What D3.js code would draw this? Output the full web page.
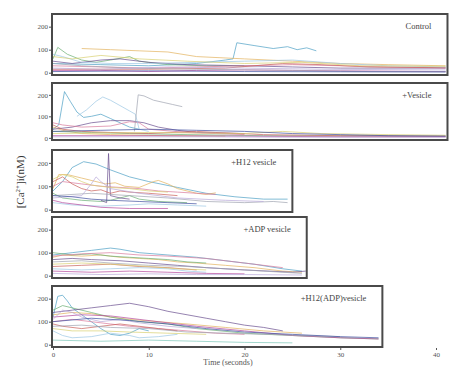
<!DOCTYPE html>
<html>
<head>
<meta charset="utf-8">
<script src="https://cdn.jsdelivr.net/npm/d3@7"></script>
<style>
  body { margin: 0; background: #fff; }
  svg { display: block; font-family: "Liberation Serif", "DejaVu Serif", serif; }
</style>
</head>
<body>
<div id="chart"></div>
<script>
// ---- data: each trace is a list of [time (s), [Ca2+]i (nM)] ----
const panelLabels = ["Control", "+Vesicle", "+H12 vesicle", "+ADP vesicle", "+H12(ADP)vesicle"];
const panelTimeMax = [41.2, 41.2, 25, 26.5, 34.4];
const xTicks = [0, 10, 20, 30, 40];
const yTicks = [0, 100, 200];

const controlTraces = [
  [[0,40],[5,35],[10,30],[15,40],[18,55],[18.8,60],[19.2,130],[21,118],[23,105],[24.5,113],[25.5,100],[26.5,108],[27.5,95]],
  [[3,105],[6,100],[9,95],[12,90],[15,70],[20,60],[25,50],[30,40],[35,35],[41,30]],
  [[0,60],[0.5,110],[1.5,80],[3,55],[4.5,45],[6,55],[8,70],[9,50],[12,35],[16,30],[20,30]],
  [[0,50],[2,40],[5,55],[7,60],[10,45],[14,35],[20,30],[25,25],[30,20],[41,20]],
  [[0,30],[5,25],[10,20],[15,25],[20,30],[25,35],[30,30],[35,25],[41,20]],
  [[0,15],[10,15],[18,20],[24,40],[28,35],[33,25],[41,22]],
  [[0,80],[1,70],[3,45],[6,40],[10,40],[15,45],[20,50],[25,55],[30,40],[35,30],[41,25]],
  [[0,10],[5,10],[10,5],[15,10],[20,12],[25,10],[30,8],[41,5]],
  [[0,40],[3,30],[8,20],[15,15],[25,10],[33,5],[41,5]],
  [[0,20],[5,15],[12,25],[20,20],[28,15],[41,12]],
  [[0,70],[2,60],[5,75],[9,60],[14,50],[20,40],[26,45],[32,30],[41,28]],
  [[0,5],[10,8],[20,5],[30,4],[41,3]]
];

const vesicleTraces = [
  [[0,40],[0.6,60],[1.2,215],[1.8,170],[2.5,120],[3.2,95],[4,100],[5,110],[6,90],[7,70],[8,50],[9,40]],
  [[0,50],[1,35],[3,20],[6,15],[12,10],[18,8]],
  [[0,30],[4,25],[8,20],[14,15],[22,10],[41,8]],
  [[0,40],[2,50],[4,70],[6,80],[8,80],[9.5,70],[11,50],[13,35],[15,25],[20,20]],
  [[0,70],[1,60],[3,50],[6,55],[8,75],[9,70],[10,40],[14,25],[20,15]],
  [[0,60],[1,40],[3,30],[6,25],[10,20],[15,30],[17,25],[22,15],[30,10],[41,8]],
  [[2.5,100],[3.5,130],[4.5,170],[5.2,190],[6,175],[7,150],[8,125],[8.6,110],[9,40],[10,30]],
  [[0,10],[10,10],[20,8],[30,5],[41,5]],
  [[8.5,30],[8.9,200],[9.5,195],[10.5,175],[11.5,165],[12.5,155],[13.5,145]],
  [[0,5],[8,5],[16,5],[24,3],[32,3],[41,3]],
  [[0,20],[10,25],[20,20],[24,30],[28,20],[35,15],[41,12]],
  [[0,30],[5,35],[10,40],[15,35],[20,30],[25,20],[30,15],[35,10],[41,8]]
];

const h12Traces = [
  [[0,80],[1,120],[2,180],[3.2,205],[4.5,195],[6,170],[8,140],[10,120],[13,95],[16,70],[19,55],[22,45],[24.5,45]],
  [[0,90],[0.6,150],[1.5,150],[3,135],[4.5,120],[5.5,110],[6.5,115],[7.5,100],[9,95],[10.5,120],[11,125],[12,110],[13,90],[14,80],[15,70],[16,65],[17,72]],
  [[0,70],[1,50],[3,40],[5,35],[6,40],[8,60],[9,45],[11,35],[14,30]],
  [[5,40],[5.6,30],[5.8,240],[6,60],[7,50],[8,45]],
  [[0,100],[1,120],[3,110],[5,100],[7,95],[9,90],[11,80],[13,75],[15,70],[17,65]],
  [[0,120],[1,140],[2,110],[3,90],[4,80],[5,85],[6,70],[7,80],[8,75],[10,70],[13,60]],
  [[0,30],[2,20],[5,15],[8,20],[10,25],[13,20],[16,15]],
  [[0,40],[1,30],[3,20],[5,10],[8,5],[12,5]],
  [[0,60],[4,70],[8,60],[12,50],[16,35],[20,30],[23,35],[24.5,30]],
  [[0,50],[3,60],[4,110],[4.5,140],[5,120],[6,90],[9,70],[13,50],[18,40],[22,35]],
  [[0,130],[1,150],[2,140],[3,120],[4,105],[6,95],[8,90],[10,80],[12,75]],
  [[0,60],[2,55],[4,45],[6,40],[9,35],[12,30],[15,25]]
];

const adpTraces = [
  [[0,90],[2,100],[4,110],[6,120],[7,115],[9,100],[12,90],[15,80],[18,65],[21,50],[24,30],[26,20]],
  [[0,80],[1,90],[3,85],[5,90],[7,80],[9,75],[11,70],[13,60],[15,55],[18,45],[21,35],[24,20],[26,15]],
  [[0,100],[2,90],[4,95],[6,85],[8,80],[10,75],[12,70],[14,60],[16,55]],
  [[0,70],[2,75],[4,70],[7,65],[10,55],[13,45],[16,35],[20,25],[25,15],[26.4,20]],
  [[0,85],[3,95],[6,100],[9,90],[12,85],[16,75],[20,55],[24,35]],
  [[0,40],[3,45],[6,50],[9,40],[12,35],[15,25]],
  [[0,30],[3,25],[6,30],[9,35],[12,30],[14,20],[16,15]],
  [[0,20],[4,15],[8,20],[12,15],[16,10],[20,8]],
  [[0,60],[3,65],[6,55],[10,45],[14,40],[18,30],[22,20],[26,10]],
  [[0,10],[5,5],[10,8],[15,5],[20,5],[26,3]],
  [[0,50],[3,55],[6,50],[10,40],[13,30],[16,25]]
];

const h12AdpTraces = [
  [[0,120],[0.5,210],[1,215],[1.5,190],[2,160],[3,130],[4,100],[5,70],[6,45],[7,40],[8,50],[9,70],[10,60]],
  [[0,130],[2,140],[4,135],[6,120],[8,110],[11,100],[14,90],[18,75],[22,60],[26,50]],
  [[0,150],[1,170],[2,160],[4,140],[6,120],[9,100],[12,90],[15,70],[20,50],[25,40],[30,30],[34,25]],
  [[0,140],[2,150],[4,160],[6,170],[8,180],[10,165],[12,145],[14,130],[16,115],[18,100],[20,85],[22,75],[24,60]],
  [[0,100],[2,110],[4,100],[6,90],[8,80],[11,70],[14,60],[17,50],[20,45]],
  [[0,90],[1,80],[3,70],[5,80],[7,90],[9,80],[11,70],[13,60]],
  [[0,60],[1,40],[2,30],[4,35],[6,50],[8,40],[9,30],[11,35],[13,45]],
  [[0,120],[3,130],[6,125],[9,110],[12,95],[15,80],[20,60],[25,40],[30,30],[34,25]],
  [[0,80],[3,85],[6,75],[10,70],[14,55],[18,50],[22,45],[26,40],[30,35]],
  [[0,110],[1,150],[2,140],[3,120],[5,100],[7,110],[9,95],[12,80],[15,70]],
  [[0,70],[2,60],[5,60],[8,55],[12,50],[16,45]],
  [[0,100],[4,115],[8,105],[12,90],[16,70],[20,55],[25,45],[30,35],[34,30]],
  [[0,20],[5,15],[10,20],[15,15],[20,10],[25,8]]
];

const panelTraces = [controlTraces, vesicleTraces, h12Traces, adpTraces, h12AdpTraces];

// ---- styling ----
const PALETTE = ["#4d9fc4", "#e3b25c", "#6aae74", "#6a4f8e", "#d87a9c", "#c9605a",
                 "#9cc8e4", "#b5489c", "#a0a4b0", "#b8a8d8", "#d9d070", "#3f4fa0", "#7cc6b8"];
const FRAME = "#4a4a4a";
const TEXT = "#555";

const width = 452, height = 368;
// vertical extent of each panel box (pixels)
const panelBoxes = [
  { top: 14, bottom: 75 },
  { top: 83, bottom: 140 },
  { top: 150, bottom: 212 },
  { top: 217, bottom: 278 },
  { top: 286, bottom: 347 }
];

const x = d3.scaleLinear().domain([0, 40]).range([53, 436]);

const svg = d3.select("#chart").append("svg")
  .attr("width", width).attr("height", height)
  .attr("viewBox", `0 0 ${width} ${height}`);

const line = d3.line().curve(d3.curveLinear);

panelTraces.forEach((traces, i) => {
  const box = panelBoxes[i];
  const left = x(0) - 1;
  const right = x(panelTimeMax[i]);
  const y = d3.scaleLinear().domain([-10, 255]).range([box.bottom, box.top]);
  line.x(d => x(d[0])).y(d => y(d[1]));

  const clipId = `clip${i}`;
  svg.append("clipPath").attr("id", clipId)
    .append("rect")
    .attr("x", left).attr("y", box.top)
    .attr("width", right - left).attr("height", box.bottom - box.top);

  const g = svg.append("g");

  g.append("g").attr("clip-path", `url(#${clipId})`)
    .selectAll("path")
    .data(traces)
    .join("path")
    .attr("d", line)
    .attr("fill", "none")
    .attr("stroke", (d, k) => PALETTE[k % PALETTE.length])
    .attr("stroke-width", 1)
    .attr("stroke-opacity", 0.7);

  // y axis: 0 / 100 / 200
  const ya = g.append("g")
    .attr("transform", `translate(${left},0)`)
    .call(d3.axisLeft(y).tickValues(yTicks).tickSize(3).tickPadding(1));
  ya.select(".domain").remove();
  ya.selectAll("line").attr("stroke", TEXT);
  ya.selectAll("text").attr("font-size", 7).attr("fill", TEXT)
    .attr("font-family", "Liberation Serif, serif");

  // frame
  g.append("rect")
    .attr("x", left).attr("y", box.top)
    .attr("width", right - left).attr("height", box.bottom - box.top)
    .attr("fill", "none")
    .attr("stroke", FRAME)
    .attr("stroke-width", 2);

  g.append("text")
    .attr("x", right - 16).attr("y", box.top + 15)
    .attr("text-anchor", "end")
    .attr("font-size", 8.5)
    .attr("fill", "#444")
    .text(panelLabels[i]);
});

// shared time axis under the last panel
const xa = svg.append("g")
  .attr("transform", `translate(0,${panelBoxes[4].bottom + 1})`)
  .call(d3.axisBottom(x).tickValues(xTicks).tickSize(2).tickPadding(2));
xa.select(".domain").remove();
xa.selectAll("line").attr("stroke", TEXT);
xa.selectAll("text").attr("font-size", 7).attr("fill", TEXT)
  .attr("font-family", "Liberation Serif, serif");

svg.append("text")
  .attr("x", 228).attr("y", 365)
  .attr("text-anchor", "middle")
  .attr("font-size", 8)
  .attr("fill", TEXT)
  .text("Time (seconds)");

const yl = svg.append("text")
  .attr("transform", "translate(24,182) rotate(-90)")
  .attr("text-anchor", "middle")
  .attr("font-size", 11)
  .attr("fill", "#333");
yl.append("tspan").text("[Ca");
yl.append("tspan").attr("font-size", 7).attr("dy", -4).text("2+");
yl.append("tspan").attr("dy", 4).text("]i(nM)");
</script>
</body>
</html>
